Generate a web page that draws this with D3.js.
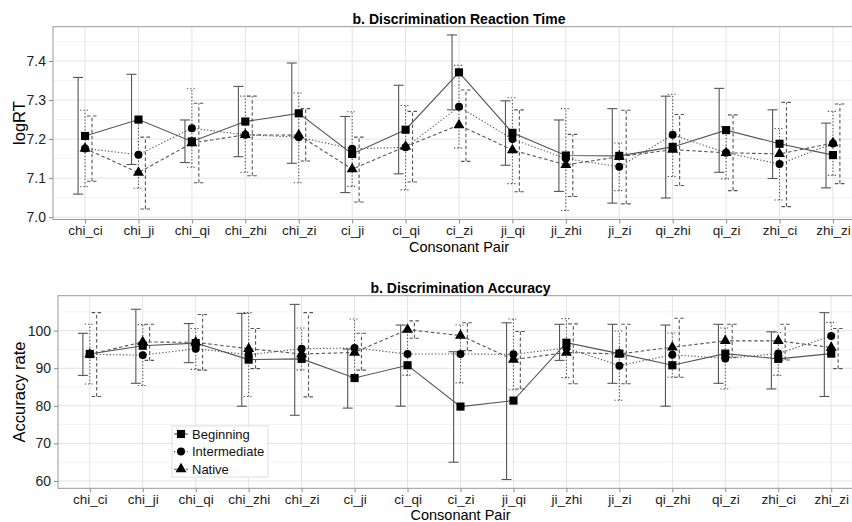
<!DOCTYPE html>
<html><head><meta charset="utf-8">
<script src="https://cdn.jsdelivr.net/npm/d3@7"></script>
<style>
body{margin:0;background:#fff}
svg{display:block;font-family:"Liberation Sans",Arial,Helvetica,sans-serif}
</style>
</head><body>
<svg id="chart" width="852" height="522"></svg>
<script>
// ---------------- data ----------------
const categories = ["chi_ci","chi_ji","chi_qi","chi_zhi","chi_zi","ci_ji","ci_qi","ci_zi","ji_qi","ji_zhi","ji_zi","qi_zhi","qi_zi","zhi_ci","zhi_zi"];
const groups = ["Beginning","Intermediate","Native"];

// Reaction time (logRT): means and error-bar limits
const rtBeginning      = [7.208,7.250,7.194,7.245,7.266,7.162,7.224,7.371,7.216,7.158,7.157,7.180,7.223,7.188,7.159];
const rtBeginningLo    = [7.059,7.135,7.140,7.155,7.138,7.063,7.111,7.275,7.133,7.066,7.036,7.049,7.115,7.099,7.075];
const rtBeginningHi    = [7.358,7.366,7.249,7.335,7.395,7.258,7.338,7.467,7.298,7.249,7.278,7.310,7.330,7.275,7.241];
const rtIntermediate   = [7.176,7.160,7.228,7.211,7.205,7.175,7.179,7.283,7.200,7.150,7.129,7.211,7.165,7.136,7.189];
const rtIntermediateLo = [7.078,7.074,7.128,7.115,7.088,7.079,7.070,7.177,7.086,7.017,7.068,7.104,7.098,7.044,7.107];
const rtIntermediateHi = [7.274,7.245,7.329,7.310,7.318,7.270,7.286,7.389,7.306,7.278,7.190,7.315,7.232,7.227,7.271];
const rtNative         = [7.176,7.114,7.190,7.211,7.210,7.123,7.181,7.236,7.172,7.134,7.155,7.173,7.165,7.162,7.190];
const rtNativeLo       = [7.092,7.021,7.088,7.106,7.144,7.039,7.090,7.143,7.065,7.053,7.034,7.081,7.068,7.027,7.086];
const rtNativeHi       = [7.259,7.205,7.292,7.310,7.278,7.205,7.271,7.326,7.275,7.212,7.274,7.263,7.262,7.294,7.290];

// Accuracy rate: means and error-bar limits
const accBeginning      = [93.8,96.0,96.7,92.3,92.5,87.4,90.8,79.8,81.4,96.8,93.9,90.8,93.9,92.5,93.9];
const accBeginningLo    = [88.1,86.0,91.5,79.9,77.5,79.4,79.9,65.0,60.4,92.1,86.0,79.9,86.0,84.5,82.5];
const accBeginningHi    = [99.3,105.7,101.9,104.6,107.0,95.1,101.5,94.4,102.1,101.7,101.7,101.5,101.7,99.7,104.8];
const accIntermediate   = [93.7,93.5,95.2,93.6,95.2,95.4,93.8,93.8,93.7,95.4,90.7,93.6,92.6,93.9,98.6];
const accIntermediateLo = [85.8,85.4,89.7,82.5,89.5,87.6,88.1,86.1,84.3,87.5,81.5,87.6,84.5,88.1,94.9];
const accIntermediateHi = [101.7,101.6,100.6,104.8,100.7,103.1,99.5,101.5,103.1,103.2,99.9,99.4,100.7,99.5,102.2];
const accNative         = [93.7,97.0,96.9,95.2,93.8,94.2,100.3,98.7,92.3,94.2,93.8,95.6,97.3,97.3,95.5];
const accNativeLo       = [82.5,92.1,89.5,89.9,82.4,89.5,98.0,94.7,84.5,85.9,85.9,87.6,92.9,92.2,89.9];
const accNativeHi       = [104.8,101.7,104.3,100.6,104.8,99.3,102.6,102.1,99.8,101.8,101.7,103.3,101.7,101.7,100.6];

const rtTicks = [7.0,7.1,7.2,7.3,7.4];
const accTicks = [60,70,80,90,100];

// ---------------- drawing ----------------
const svg = d3.select("#chart");
const ink = "#555";
const style = {
  Beginning:    {symbol: d3.symbolSquare,   size: 66, dash: null,      dodge: -1},
  Intermediate: {symbol: d3.symbolCircle,   size: 50, dash: "1.3,2",   dodge: 0},
  Native:       {symbol: d3.symbolTriangle, size: 52, dash: "3.5,2.5", dodge: 1}
};

function drawPanel(cfg) {
  const g = svg.append("g");
  const x = d3.scalePoint().domain(categories).range([cfg.left, cfg.right]).padding(0.6);
  const y = d3.scaleLinear().domain(cfg.yDomain).range([cfg.bottom, cfg.top]);
  const step = x.step();
  const dodge = step * 0.13;
  const cap = 5;

  g.append("rect").attr("x", cfg.left).attr("y", cfg.top)
    .attr("width", cfg.right - cfg.left).attr("height", cfg.bottom - cfg.top)
    .attr("fill", "#fff");

  // minor grid
  g.selectAll(".minor").data(cfg.minor).join("line")
    .attr("x1", cfg.left).attr("x2", cfg.right)
    .attr("y1", d => y(d)).attr("y2", d => y(d))
    .attr("stroke", "#f3f3f3").attr("stroke-width", 1);
  // major grid
  g.selectAll(".majory").data(cfg.ticks).join("line")
    .attr("x1", cfg.left).attr("x2", cfg.right)
    .attr("y1", d => y(d)).attr("y2", d => y(d))
    .attr("stroke", "#e3e3e3").attr("stroke-width", 1);
  g.selectAll(".majorx").data(categories).join("line")
    .attr("x1", d => x(d)).attr("x2", d => x(d))
    .attr("y1", cfg.top).attr("y2", cfg.bottom)
    .attr("stroke", "#e3e3e3").attr("stroke-width", 1);

  // axes
  const xAxis = d3.axisBottom(x).tickSize(4).tickPadding(2);
  const gx = g.append("g").attr("transform", `translate(0,${cfg.bottom})`).call(xAxis);
  gx.select(".domain").remove();
  gx.selectAll(".tick line").attr("stroke", "#888");
  gx.selectAll(".tick text").attr("font-size", 13.5).attr("fill", "#222")
    .attr("font-family", "'Liberation Sans',Arial,sans-serif");

  const yAxis = d3.axisLeft(y).tickValues(cfg.ticks).tickFormat(cfg.fmt).tickSize(4).tickPadding(3);
  const gy = g.append("g").attr("transform", `translate(${cfg.left},0)`).call(yAxis);
  gy.select(".domain").remove();
  gy.selectAll(".tick line").attr("stroke", "#888");
  gy.selectAll(".tick text").attr("font-size", 14).attr("fill", "#222")
    .attr("font-family", "'Liberation Sans',Arial,sans-serif");

  // error bars
  cfg.series.forEach(s => {
    const st = style[s.name];
    const eg = g.append("g").attr("stroke", ink).attr("stroke-width", 1.1).attr("fill", "none");
    if (st.dash) eg.attr("stroke-dasharray", st.dash);
    categories.forEach((c, i) => {
      const cx = x(c) + st.dodge * dodge;
      eg.append("line").attr("x1", cx).attr("x2", cx).attr("y1", y(s.lo[i])).attr("y2", y(s.hi[i]));
      eg.append("line").attr("x1", cx - cap).attr("x2", cx + cap).attr("y1", y(s.lo[i])).attr("y2", y(s.lo[i]));
      eg.append("line").attr("x1", cx - cap).attr("x2", cx + cap).attr("y1", y(s.hi[i])).attr("y2", y(s.hi[i]));
    });
  });

  // lines
  cfg.series.forEach(s => {
    const st = style[s.name];
    const line = d3.line().x((d, i) => x(categories[i])).y(d => y(d));
    g.append("path").datum(s.mean).attr("d", line)
      .attr("fill", "none").attr("stroke", ink).attr("stroke-width", 1.1)
      .attr("stroke-dasharray", st.dash);
  });

  // points
  cfg.series.forEach(s => {
    const st = style[s.name];
    g.selectAll(null).data(s.mean).join("path")
      .attr("d", d3.symbol().type(st.symbol).size(st.size))
      .attr("transform", (d, i) => `translate(${x(categories[i])},${y(d)})`)
      .attr("fill", "#000");
  });

  // border
  g.append("rect").attr("x", cfg.left).attr("y", cfg.top)
    .attr("width", cfg.right - cfg.left).attr("height", cfg.bottom - cfg.top)
    .attr("fill", "none").attr("stroke", "#999").attr("stroke-width", 1);

  // titles
  g.append("text").attr("x", (cfg.left + cfg.right) / 2).attr("y", cfg.titleY)
    .attr("text-anchor", "middle").attr("font-weight", "bold").attr("font-size", 14)
    .text(cfg.title);
  g.append("text").attr("x", (cfg.left + cfg.right) / 2).attr("y", cfg.xTitleY)
    .attr("text-anchor", "middle").attr("font-size", 14.5).text("Consonant Pair");
  g.append("text").attr("transform", `translate(25,${(cfg.top + cfg.bottom) / 2}) rotate(-90)`)
    .attr("text-anchor", "middle").attr("font-size", 16.5).text(cfg.yTitle);

  return {x, y};
}

drawPanel({
  left: 53, right: 865, top: 26.7, bottom: 219.5,
  yDomain: [6.994, 7.488], ticks: rtTicks, minor: [7.05,7.15,7.25,7.35,7.45],
  fmt: d3.format(".1f"),
  title: "b. Discrimination Reaction Time", titleY: 23.5, xTitleY: 252,
  yTitle: "logRT",
  series: [
    {name: "Beginning", mean: rtBeginning, lo: rtBeginningLo, hi: rtBeginningHi},
    {name: "Intermediate", mean: rtIntermediate, lo: rtIntermediateLo, hi: rtIntermediateHi},
    {name: "Native", mean: rtNative, lo: rtNativeLo, hi: rtNativeHi}
  ]
});

drawPanel({
  left: 58, right: 863, top: 295.7, bottom: 488.3,
  yDomain: [58.06, 109.31], ticks: accTicks, minor: [65,75,85,95,105],
  fmt: d3.format("d"),
  title: "b. Discrimination Accuracy", titleY: 293, xTitleY: 520,
  yTitle: "Accuracy rate",
  series: [
    {name: "Beginning", mean: accBeginning, lo: accBeginningLo, hi: accBeginningHi},
    {name: "Intermediate", mean: accIntermediate, lo: accIntermediateLo, hi: accIntermediateHi},
    {name: "Native", mean: accNative, lo: accNativeLo, hi: accNativeHi}
  ]
});

// legend
const lg = svg.append("g").attr("transform", "translate(172,426)");
lg.append("rect").attr("width", 96).attr("height", 51).attr("fill", "#fff")
  .attr("stroke", "#ddd").attr("stroke-width", 1);
groups.forEach((name, i) => {
  const st = style[name];
  const cy = 8 + i * 17.6;
  lg.append("line").attr("x1", 2).attr("x2", 16).attr("y1", cy).attr("y2", cy)
    .attr("stroke", ink).attr("stroke-width", 1.1).attr("stroke-dasharray", st.dash);
  lg.append("path").attr("d", d3.symbol().type(st.symbol).size(st.size))
    .attr("transform", `translate(9,${cy})`).attr("fill", "#000");
  lg.append("text").attr("x", 20).attr("y", cy + 4.6).attr("font-size", 13).attr("fill", "#111").text(name);
});
</script>
</body></html>
